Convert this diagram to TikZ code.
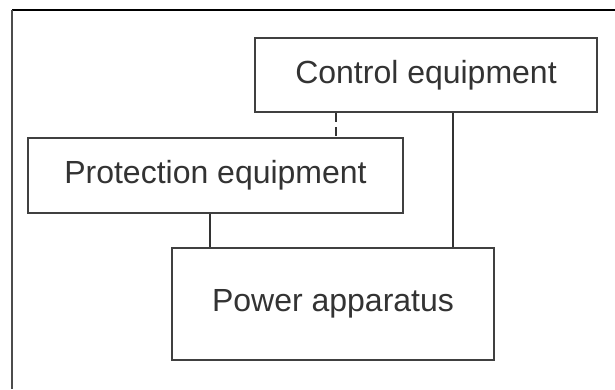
\documentclass[tikz,border=0pt]{standalone}
\usepackage{fontspec}
\setmainfont{Liberation Sans}
\begin{document}
\begin{tikzpicture}[x=1pt,y=-1pt,
  boxstyle/.style={draw=black!75,line width=2pt,inner sep=0pt,font=\fontsize{32}{38}\selectfont,text=black!80},
  link/.style={draw=black!80,line width=1.8pt}]
\useasboundingbox (0,0) rectangle (615,389);
\fill[white] (0,0) rectangle (615,389);
\draw[black,line width=1.5pt] (12,10) -- (615,10);
\draw[black!70,line width=2.5pt] (12,10) -- (12,389);
\node[boxstyle,minimum width=342,minimum height=74] (ctrl) at (426,75) {Control equipment};
\node[boxstyle,minimum width=375,minimum height=75] (prot) at (215.5,175.5) {Protection equipment};
\node[boxstyle,minimum width=322,minimum height=112] (pow) at (333,304) {Power apparatus};
\draw[link,dash pattern=on 9pt off 5pt] (ctrl.south -| 336,0) -- (prot.north -| 336,0);
\draw[link] (ctrl.south -| 453,0) -- (pow.north -| 453,0);
\draw[link] (prot.south -| 210,0) -- (pow.north -| 210,0);
\end{tikzpicture}
\end{document}
